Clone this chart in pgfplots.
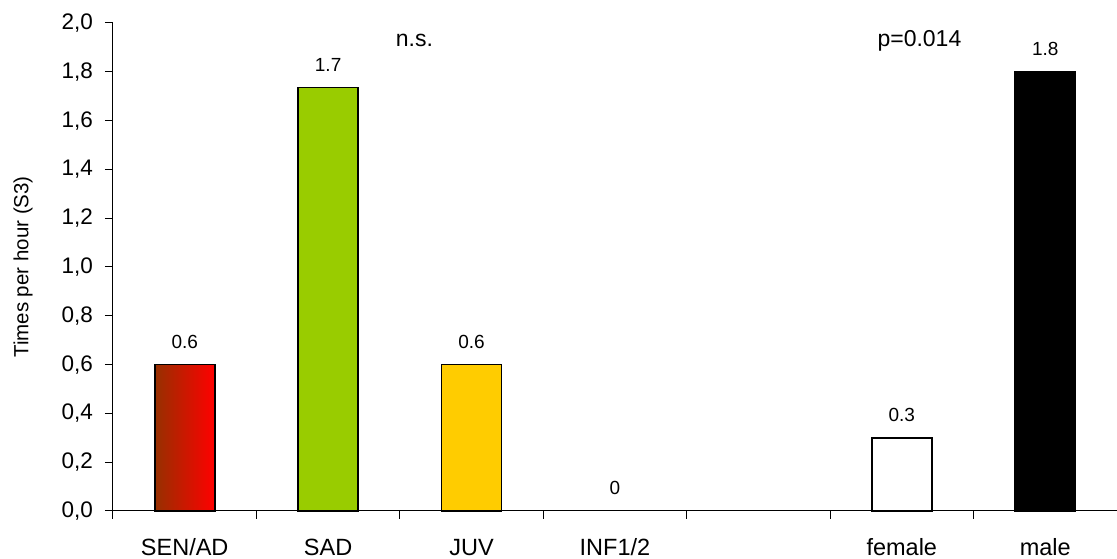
\documentclass[border=0pt]{standalone}
\usepackage{fontspec}
\setmainfont{Liberation Sans}
\usepackage{pgfplots}
\pgfplotsset{compat=1.18}
\definecolor{sad}{RGB}{153,204,0}
\definecolor{juv}{RGB}{255,204,0}
\definecolor{senL}{RGB}{150,48,0}
\definecolor{senR}{RGB}{255,0,0}
\begin{document}
\begin{tikzpicture}
\begin{axis}[
  scale only axis, width=1004pt, height=488pt,
  xmin=-0.5, xmax=6.5, ymin=0, ymax=2,
  clip=false,
  axis x line=bottom, axis y line=left,
  axis line style={-, line width=1pt, black},
  xtick={0,1,2,3,4,5,6},
  xticklabels={SEN/AD,SAD,JUV,INF1/2,,female,male},
  minor xtick={-0.5,0.5,1.5,2.5,3.5,4.5,5.5},
  major x tick style={draw=none},
  minor x tick style={line width=1pt, black},
  ytick={0,0.2,0.4,0.6,0.8,1.0,1.2,1.4,1.6,1.8,2.0},
  major y tick style={line width=1pt, black},
  tick align=outside, major tick length=8pt, minor tick length=8pt,
  /pgf/number format/assume math mode=true,
  yticklabel style={font=\fontsize{22.5}{27}\selectfont, anchor=east, inner sep=0pt, xshift=-12pt,
    /pgf/number format/fixed, /pgf/number format/fixed zerofill,
    /pgf/number format/precision=1, /pgf/number format/use comma},
  xticklabel style={font=\fontsize{23.5}{28}\selectfont, anchor=base, inner sep=0pt, yshift=-37pt},
  every axis y label/.style={at={(axis description cs:-0.0896,0.5)}, rotate=90, anchor=center,
    font=\fontsize{20.5}{25}\selectfont},
  ylabel={Times per hour (S3)},
  every node near coord/.append style={font=\fontsize{19}{23}\selectfont, text=black, anchor=base, yshift=16pt},
]
\addplot[ybar, bar width=60pt, bar shift=0pt, draw=black, line width=1.6pt,
  left color=senL, right color=senR, nodes near coords={0.6}] coordinates {(0,0.6)};
\addplot[ybar, bar width=60pt, bar shift=0pt, draw=black, line width=1.6pt,
  fill=sad, nodes near coords={1.7}] coordinates {(1,1.735)};
\addplot[ybar, bar width=60pt, bar shift=0pt, draw=black, line width=1.6pt,
  fill=juv, nodes near coords={0.6}] coordinates {(2,0.6)};
\addplot[ybar, bar width=60pt, bar shift=0pt, draw=none, fill=none,
  nodes near coords={0}] coordinates {(3,0)};
\addplot[ybar, bar width=60pt, bar shift=0pt, draw=black, line width=1.6pt,
  fill=white, nodes near coords={0.3}] coordinates {(5,0.3)};
\addplot[ybar, bar width=60pt, bar shift=0pt, draw=black, line width=1.6pt,
  fill=black, nodes near coords={1.8}] coordinates {(6,1.8)};
\node[font=\fontsize{23}{27}\selectfont, anchor=base] at (axis cs:1.602,1.903) {n.s.};
\node[font=\fontsize{23}{27}\selectfont, anchor=base] at (axis cs:5.123,1.903) {p=0.014};
\end{axis}
\pgfresetboundingbox
\path[use as bounding box] (-113pt,-48pt) rectangle (1004pt,511pt);
\end{tikzpicture}
\end{document}
